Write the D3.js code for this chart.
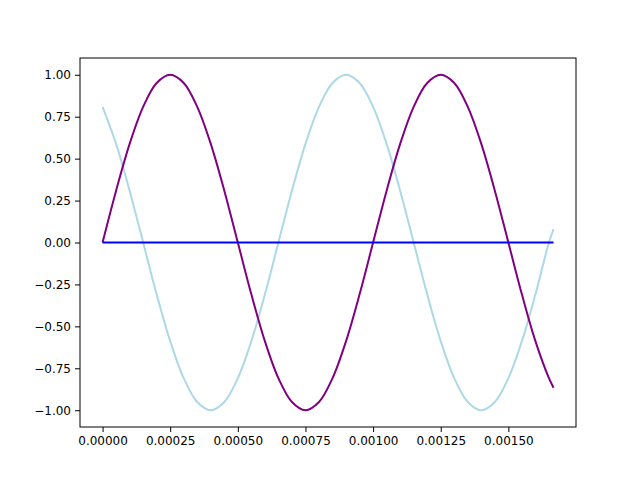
<!DOCTYPE html>
<html><head><meta charset="utf-8">
<script src="https://cdn.jsdelivr.net/npm/d3@7"></script>
<style>body{margin:0;background:#fff}</style>
</head><body><div id="chart"></div>
<script>
// sample times (s)
const times = [0,0.00005,0.0001,0.00015,0.0002,0.00025,0.0003,0.00035,0.0004,0.00045,
  0.0005,0.00055,0.0006,0.00065,0.0007,0.00075,0.0008,0.00085,0.0009,0.00095,
  0.001,0.00105,0.0011,0.00115,0.0012,0.00125,0.0013,0.00135,0.0014,0.00145,
  0.0015,0.00155,0.0016,0.00165,0.001667];
const purpleVals = [0,.309,.588,.809,.951,1,.951,.809,.588,.309,0,-.309,-.588,-.809,-.951,-1,-.951,-.809,-.588,-.309,
  0,.309,.588,.809,.951,1,.951,.809,.588,.309,0,-.309,-.588,-.809,-.866];
const lightVals = [.809,.588,.309,0,-.309,-.588,-.809,-.951,-1,-.951,-.809,-.588,-.309,0,.309,.588,.809,.951,1,.951,
  .809,.588,.309,0,-.309,-.588,-.809,-.951,-1,-.951,-.809,-.588,-.309,0,.08];
const flatVals = times.map(() => 0);
const xTicks = [0,0.00025,0.0005,0.00075,0.001,0.00125,0.0015];
const yTicks = [-1,-0.75,-0.5,-0.25,0,0.25,0.5,0.75,1];

const W = 640, H = 480, L = 80, R = 576, T = 58, B = 427;
const svg = d3.select("#chart").append("svg").attr("width", W).attr("height", H)
  .style("font-family", "DejaVu Sans").style("font-size", "12px");

const x = d3.scaleLinear().domain([-0.0000834, 0.00175]).range([L, R]);
const y = d3.scaleLinear().domain([-1.1, 1.1]).range([B, T]);

const line = vals => d3.line().x((d, i) => x(times[i])).y(d => y(d)).curve(d3.curveCatmullRom)(vals);

svg.append("path").attr("d", line(lightVals)).attr("fill", "none").attr("stroke", "#add8e6").attr("stroke-width", 2);
svg.append("path").attr("d", line(purpleVals)).attr("fill", "none").attr("stroke", "#800080").attr("stroke-width", 2);
svg.append("path").attr("d", line(flatVals)).attr("fill", "none").attr("stroke", "#0000ff").attr("stroke-width", 2);

const xa = svg.append("g").attr("transform", `translate(0,${B})`)
  .call(d3.axisBottom(x).tickValues(xTicks).tickFormat(d3.format(".5f")).tickSize(5).tickPadding(4));
const ya = svg.append("g").attr("transform", `translate(${L},0)`)
  .call(d3.axisLeft(y).tickValues(yTicks).tickFormat(d3.format(".2f")).tickSize(5).tickPadding(4));
[xa, ya].forEach(a => { a.select(".domain").remove(); a.selectAll("text").style("font-family", "DejaVu Sans").style("font-size", "12px").attr("fill", "#000"); a.selectAll("line").attr("stroke", "#000"); });

svg.append("rect").attr("x", L).attr("y", T).attr("width", R - L).attr("height", B - T)
  .attr("fill", "none").attr("stroke", "#000").attr("stroke-width", 1);
</script></body></html>
